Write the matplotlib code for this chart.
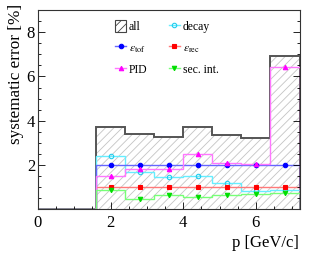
import matplotlib
matplotlib.use('Agg')
import matplotlib.pyplot as plt
from matplotlib.lines import Line2D
from matplotlib.patches import Patch
from matplotlib.ticker import MultipleLocator

plt.rcParams['font.family'] = 'Liberation Serif'
plt.rcParams['mathtext.fontset'] = 'stix'
plt.rcParams['hatch.linewidth'] = 0.6

# bin edges and centres in p [GeV/c]
edges = [0, 1.6, 2.4, 3.2, 4.0, 4.8, 5.6, 6.4, 7.2]
centers = [2.0, 2.8, 3.6, 4.4, 5.2, 6.0, 6.8]

# systematic errors [%] per bin (first bin 0-1.6 is empty)
err_all = [0, 3.73, 3.39, 3.28, 3.73, 3.35, 3.22, 6.93]
err_decay = [0, 2.42, 1.67, 1.47, 1.50, 1.17, 0.83, 0.87]
err_tof = [0, 2.0, 2.0, 2.0, 2.0, 2.0, 2.0, 2.0]
err_rec = [0, 1.0, 1.0, 1.0, 1.0, 1.0, 1.0, 1.0]
err_pid = [0, 1.49, 1.83, 1.81, 2.48, 2.08, 2.05, 6.44]
err_sec = [0, 0.86, 0.47, 0.63, 0.56, 0.66, 0.69, 0.74]

fig = plt.figure(figsize=(3.15, 2.59), dpi=100)
ax = fig.add_axes([0.120, 0.192, 0.831, 0.769])

# total: hatched area with dark outline
ax.stairs(err_all, edges, fill=True, facecolor='none', edgecolor='#c4c4c4',
          linewidth=0, hatch='////')
ax.stairs(err_all, edges, baseline=0, color='#555555', linewidth=1.4)

# (label, values, line colour, marker, marker colour, filled)
series = [
    ('decay', err_decay, '#66eeff', 'o', '#22ccee', False),
    (r'$\epsilon_{\rm tof}$', err_tof, '#6666ff', 'o', '#0000ff', True),
    (r'$\epsilon_{\rm rec}$', err_rec, '#ff7a7a', 's', '#ff0000', True),
    ('PID', err_pid, '#ff77ff', '^', '#ff00ff', True),
    ('sec. int.', err_sec, '#77ff77', 'v', '#00dd00', True),
]

handles = {}
for name, vals, lc, mk, mc, filled in series:
    ax.stairs(vals, edges, baseline=0, color=lc, linewidth=1.0)
    ax.plot(centers, vals[1:], linestyle='none', marker=mk, markersize=3.2,
            markeredgecolor=mc, markerfacecolor=mc if filled else 'none',
            markeredgewidth=0.8)
    handles[name] = Line2D([], [], color=lc, linewidth=1.0, marker=mk,
                           markersize=3.2, markeredgecolor=mc,
                           markerfacecolor=mc if filled else 'none',
                           markeredgewidth=0.8)

all_handle = Patch(facecolor='none', edgecolor='#444444', hatch='////',
                   linewidth=0.8)

order = ['all', r'$\epsilon_{\rm tof}$', 'PID',
         'decay', r'$\epsilon_{\rm rec}$', 'sec. int.']
leg_handles = [all_handle if k == 'all' else handles[k] for k in order]
ax.legend(leg_handles, order, ncol=2, frameon=False, fontsize=8.4,
          loc='upper left', bbox_to_anchor=(115 / 315, 1 - 20 / 259),
          bbox_transform=fig.transFigure, borderpad=0, borderaxespad=0,
          handlelength=0.95, handleheight=1.2, handletextpad=0.25,
          labelspacing=0.7, columnspacing=1.8)

ax.set_xlim(0, 7.2)
ax.set_ylim(0, 9)
ax.set_xticks([0, 2, 4, 6])
ax.set_yticks([2, 4, 6, 8])
ax.xaxis.set_minor_locator(MultipleLocator(0.5))
ax.yaxis.set_minor_locator(MultipleLocator(0.5))
ax.tick_params(which='both', direction='in', right=True, top=False,
               labelsize=12, width=0.6)
ax.tick_params(axis='x', pad=4)
ax.tick_params(axis='y', pad=2)
ax.tick_params(which='major', length=5)
ax.tick_params(which='minor', length=2.5)
for sp in ax.spines.values():
    sp.set_linewidth(0.8)
    sp.set_color('#333333')

fig.text(299 / 315, 1 - 243 / 259, 'p [GeV/c]', ha='right', va='center',
         fontsize=12)
fig.text(16 / 315, 1 - 4 / 259, 'systematic error [%]', rotation=90,
         ha='center', va='top', fontsize=12.3)

fig.savefig('out.png', dpi=100)
